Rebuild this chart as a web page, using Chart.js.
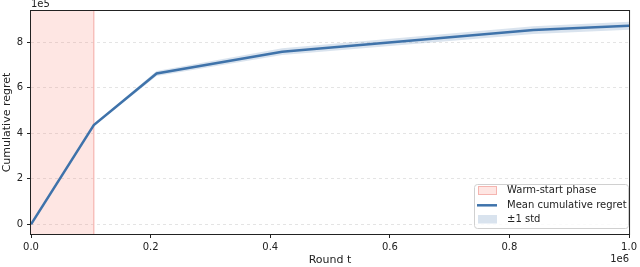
<!DOCTYPE html>
<html>
<head>
<meta charset="utf-8">
<script src="https://cdn.jsdelivr.net/npm/chart.js@4/dist/chart.umd.min.js"></script>
<style>
  html, body { margin: 0; padding: 0; background: #fff; }
  #wrap { width: 640px; height: 267px; position: relative; }
</style>
</head>
<body>
<div id="wrap"><canvas id="regret"></canvas></div>
<script>
/* ===== DATA ===== */
const rounds = [0, 105000, 210000, 420000, 840000, 1000000];
const meanRegret = [0, 436000, 663000, 759000, 854000, 873000];
const stdRegret = [0, 4000, 11000, 15000, 17000, 18000];
const warmStartEnd = 105000;
const xTicks = [0, 200000, 400000, 600000, 800000, 1000000];
const yTicks = [0, 200000, 400000, 600000, 800000];
const legendLabels = ['Warm-start phase', 'Mean cumulative regret', '\u00b11 std'];

const LINE = '#3f73ab';
const BAND = 'rgba(63,115,171,0.2)';
const WARM_FILL = 'rgba(250,128,114,0.2)';
const WARM_EDGE = '#f5b5b0';
const TXT = '#222';
const font = { family: 'DejaVu Sans', size: 10 };
const titleFont = { family: 'DejaVu Sans', size: 11 };

const pts = (ys) => rounds.map((x, i) => ({ x, y: ys[i] }));
const upper = meanRegret.map((m, i) => m + stdRegret[i]);
const lower = meanRegret.map((m, i) => m - stdRegret[i]);

/* warm-start span, frame, exponent labels, legend */
const decor = {
  id: 'decor',
  beforeDatasetsDraw(chart) {
    const { ctx, chartArea: a, scales: { x } } = chart;
    const x0 = x.getPixelForValue(0), x1 = x.getPixelForValue(warmStartEnd);
    ctx.save();
    ctx.fillStyle = WARM_FILL;
    ctx.fillRect(x0, a.top, x1 - x0, a.bottom - a.top);
    ctx.strokeStyle = WARM_EDGE; ctx.lineWidth = 1.2;
    ctx.beginPath(); ctx.moveTo(x1, a.top); ctx.lineTo(x1, a.bottom); ctx.stroke();
    ctx.restore();
  },
  afterDraw(chart) {
    const { ctx, chartArea: a } = chart;
    ctx.save();
    ctx.strokeStyle = '#222'; ctx.lineWidth = 1;
    ctx.strokeRect(a.left - 0.5, a.top - 0.5, a.right - a.left + 1, a.bottom - a.top + 1);

    ctx.font = '10px "DejaVu Sans"'; ctx.fillStyle = TXT;
    ctx.textBaseline = 'middle';
    ctx.textAlign = 'left'; ctx.fillText('1e5', a.left, 4);
    ctx.textAlign = 'right'; ctx.fillText('1e6', a.right, 259);

    // legend box
    const bx = 474, by = 184, bw = 154, bh = 44;
    ctx.fillStyle = 'rgba(255,255,255,0.85)'; ctx.strokeStyle = '#d0d0d0';
    ctx.beginPath(); ctx.roundRect(bx + 0.5, by + 0.5, bw, bh, 3); ctx.fill(); ctx.stroke();
    const rowY = [190.5, 205.3, 219.3];
    ctx.fillStyle = WARM_FILL; ctx.fillRect(478, 186.5, 19, 8);
    ctx.strokeStyle = WARM_EDGE; ctx.strokeRect(478.5, 186.5, 18, 8);
    ctx.strokeStyle = LINE; ctx.lineWidth = 2.5;
    ctx.beginPath(); ctx.moveTo(477, rowY[1]); ctx.lineTo(497, rowY[1]); ctx.stroke();
    ctx.fillStyle = BAND; ctx.fillRect(478, 215, 19, 8.5);
    ctx.fillStyle = TXT; ctx.textAlign = 'left';
    legendLabels.forEach((t, i) => ctx.fillText(t, 507, rowY[i]));
    ctx.restore();
  }
};

new Chart(document.getElementById('regret'), {
  type: 'line',
  data: {
    datasets: [
      { label: 'upper', data: pts(upper), borderWidth: 0, pointRadius: 0, fill: '+1', backgroundColor: BAND },
      { label: 'lower', data: pts(lower), borderWidth: 0, pointRadius: 0, fill: false },
      { label: 'mean', data: pts(meanRegret), borderColor: LINE, borderWidth: 2.5, pointRadius: 0, fill: false }
    ]
  },
  options: {
    responsive: true, maintainAspectRatio: false, animation: false,
    layout: { padding: { top: 11, right: 7, left: 0, bottom: 0 } },
    plugins: { legend: { display: false }, tooltip: { enabled: false } },
    scales: {
      x: {
        type: 'linear', min: 0, max: 1000000,
        afterBuildTicks: s => { s.ticks = xTicks.map(v => ({ value: v })); },
        afterFit: s => { s.height = 33; },
        grid: { drawOnChartArea: false, tickLength: 4, color: '#222' },
        border: { display: false },
        ticks: { font, color: TXT, padding: 3, maxRotation: 0, callback: v => (v / 1e6).toFixed(1) },
        title: { display: true, text: 'Round t', font: titleFont, color: TXT, padding: { top: 0, bottom: 0 } }
      },
      y: {
        min: -43000, max: 938000,
        afterBuildTicks: s => { s.ticks = yTicks.map(v => ({ value: v })); },
        afterFit: s => { s.width = 31; },
        grid: { color: '#e4e4e4', tickColor: '#222', tickLength: 4, tickBorderDash: [] },
        border: { display: false, dash: [3, 3] },
        ticks: { font, color: TXT, padding: 4, callback: v => String(v / 1e5) },
        title: { display: true, text: 'Cumulative regret', font: titleFont, color: TXT, padding: { top: 1, bottom: 0 } }
      }
    }
  },
  plugins: [decor]
});
</script>
</body>
</html>
